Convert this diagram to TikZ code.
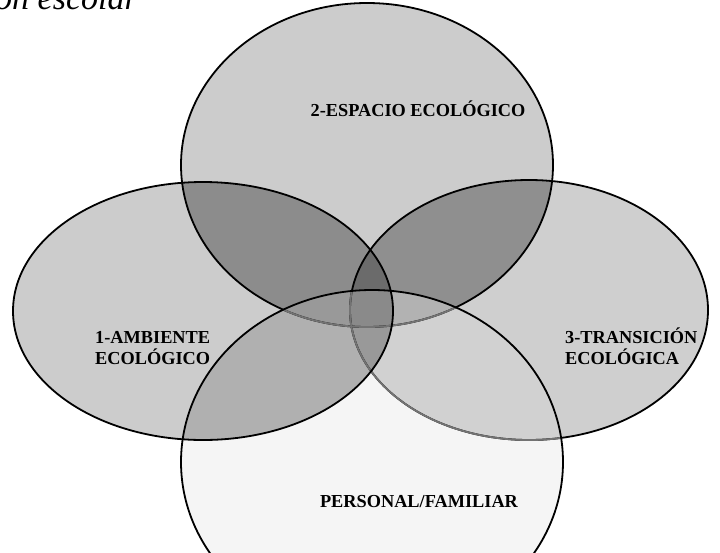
\documentclass[tikz,border=0pt]{standalone}
\usepackage{fontspec}
\setmainfont{Liberation Serif}
\usepackage{tikz}

\definecolor{soloL}{gray}{0.80}
\definecolor{soloT}{gray}{0.80}
\definecolor{soloR}{gray}{0.81}
\definecolor{soloB}{gray}{0.96}
\definecolor{dosLT}{gray}{0.55}
\definecolor{dosTR}{gray}{0.56}
\definecolor{dosLB}{gray}{0.69}
\definecolor{dosRB}{gray}{0.82}
\definecolor{dosLR}{gray}{0.60}
\definecolor{dosTB}{gray}{0.70}
\definecolor{tresLTR}{gray}{0.42}
\definecolor{tresLTB}{gray}{0.60}
\definecolor{tresLRB}{gray}{0.60}
\definecolor{tresTRB}{gray}{0.70}
\definecolor{cuatro}{gray}{0.54}
\definecolor{borde}{gray}{0.45}

\newcommand{\ellL}{(203,311) ellipse [x radius=190pt, y radius=129pt]}
\newcommand{\ellT}{(367,165) ellipse [x radius=186pt, y radius=162pt]}
\newcommand{\ellR}{(529,310) ellipse [x radius=179pt, y radius=130pt]}
\newcommand{\ellB}{(372,462) ellipse [x radius=191pt, y radius=172pt]}

\begin{document}
\begin{tikzpicture}[x=1pt,y=-1pt,
    rim/.style={line width=1.8pt},
    lbl/.style={inner sep=0pt, font=\fontsize{18.3}{20}\selectfont\bfseries}]
    \path[use as bounding box,clip] (0,0) rectangle (720,552);
    \node[anchor=base west, inner sep=0pt, font=\fontsize{34}{36}\selectfont\itshape]
      (titulo) at (-5,9) {ón escolar};
    \fill[soloL] \ellL;
    \fill[soloT] \ellT;
    \fill[soloR] \ellR;
    \fill[soloB] \ellB;
    \begin{scope}
      \clip \ellL;
      \fill[dosLT] \ellT;
      \fill[dosLB] \ellB;
      \fill[dosLR] \ellR;
    \end{scope}
    \begin{scope}
      \clip \ellT;
      \fill[dosTR] \ellR;
      \fill[dosTB] \ellB;
    \end{scope}
    \begin{scope}
      \clip \ellR;
      \fill[dosRB] \ellB;
    \end{scope}
    \begin{scope}
      \clip \ellL; \clip \ellT;
      \fill[tresLTR] \ellR;
      \fill[tresLTB] \ellB;
    \end{scope}
    \begin{scope}
      \clip \ellL; \clip \ellR;
      \fill[tresLRB] \ellB;
    \end{scope}
    \begin{scope}
      \clip \ellT; \clip \ellR;
      \fill[tresTRB] \ellB;
    \end{scope}
    \begin{scope}
      \clip \ellL; \clip \ellT; \clip \ellR;
      \fill[cuatro] \ellB;
    \end{scope}
    \draw[rim] \ellT;
    \draw[rim] \ellR;
    \begin{scope}
      \clip \ellB;
      \draw[rim,borde] \ellT;
      \draw[rim,borde] \ellR;
    \end{scope}
    \draw[rim] \ellB;
    \draw[rim] \ellL;
    \node[lbl, anchor=base] (espacio) at (418,116) {2-ESPACIO ECOLÓGICO};
    \node[lbl, anchor=base west] (ambiente) at (95,343)
      {\begin{tabular}[t]{@{}l@{}}1-AMBIENTE\\ECOLÓGICO\end{tabular}};
    \node[lbl, anchor=base west] (transicion) at (565,343)
      {\begin{tabular}[t]{@{}l@{}}3-TRANSICIÓN\\ECOLÓGICA\end{tabular}};
    \node[lbl, anchor=base] (personal) at (419,507) {PERSONAL/FAMILIAR};
\end{tikzpicture}
\end{document}
